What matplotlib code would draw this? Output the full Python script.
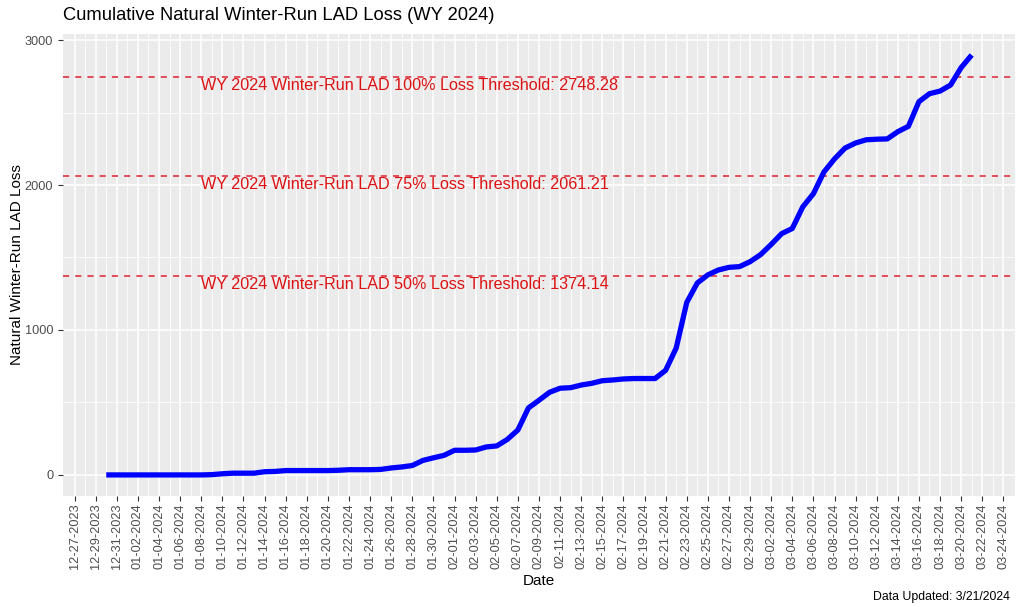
import matplotlib
matplotlib.use("Agg")
import matplotlib.pyplot as plt
import matplotlib.dates as mdates
import numpy as np
import datetime as dt

plt.rcParams['font.family'] = ['Liberation Sans', 'DejaVu Sans']

start_date = "2023-12-30"
end_date = "2024-03-21"
cumulative_loss = [
    0, 0, 0, 0, 0, 0, 0, 0, 0, 0,            # Dec 30 - Jan 8
    2, 8, 12, 12, 12, 22, 24, 30, 30, 30,     # Jan 9 - Jan 18
    30, 30, 32, 36, 36, 36, 38, 48, 55, 65,   # Jan 19 - Jan 28
    100, 118, 135, 170, 170, 172, 193, 200, 245, 310,  # Jan 29 - Feb 7
    462, 515, 570, 598, 602, 620, 632, 650, 655, 662,  # Feb 8 - Feb 17
    665, 665, 665, 722, 875, 1190, 1324, 1380, 1414, 1432,  # Feb 18 - Feb 27
    1437, 1471, 1520, 1590, 1665, 1700, 1850, 1940, 2090, 2180,  # Feb 28 - Mar 8
    2255, 2290, 2312, 2316, 2318, 2368, 2405, 2575, 2630, 2648,  # Mar 9 - Mar 18
    2690, 2810, 2897,                          # Mar 19 - Mar 21
]
threshold_labels = ["WY 2024 Winter-Run LAD 100% Loss Threshold: 2748.28",
                    "WY 2024 Winter-Run LAD 75% Loss Threshold: 2061.21",
                    "WY 2024 Winter-Run LAD 50% Loss Threshold: 1374.14"]
threshold_values = [2748.28, 2061.21, 1374.14]
label_date = "2024-01-08"
break_start = "2023-12-27"
break_end = "2024-03-24"
y_ticks = [0, 1000, 2000, 3000]

d0 = np.datetime64(start_date)
dates = d0 + np.arange(len(cumulative_loss)).astype('timedelta64[D]')
xdates = [dt.datetime.fromisoformat(str(d)) for d in dates]
xnum = mdates.date2num(xdates)
vals = np.array(cumulative_loss, dtype=float)

fig = plt.figure(figsize=(10.16, 6.07), dpi=100)
ax = fig.add_axes([0.062, 0.183, 0.937, 0.761])
ax.set_facecolor('#EBEBEB')
for s in ax.spines.values():
    s.set_visible(False)

# breaks every 2 days, minor in between
b0 = mdates.date2num(dt.datetime.fromisoformat(break_start))
b1 = mdates.date2num(dt.datetime.fromisoformat(break_end))
major = np.arange(b0, b1 + 0.5, 2)
minor = np.arange(b0 + 1, b1, 2)
ax.set_xticks(major)
ax.set_xticks(minor, minor=True)
ax.xaxis.set_major_formatter(mdates.DateFormatter('%m-%d-%Y'))
ax.set_yticks(y_ticks)
ax.set_yticks([500, 1500, 2500], minor=True)

ax.grid(which='major', color='white', linewidth=1.1)
ax.grid(which='minor', color='white', linewidth=0.55)
ax.set_axisbelow(True)

ax.plot(xnum, vals, color='#0000FF', linewidth=3.8, solid_capstyle='butt', zorder=3)

lx = mdates.date2num(dt.datetime.fromisoformat(label_date))
for lab, v in zip(threshold_labels, threshold_values):
    ax.axhline(v, color='#DD2233', linestyle=(0, (4, 4)), linewidth=1.1, zorder=2)
    ax.text(lx, v - 8, lab, color='#DD1111', fontsize=11.6, ha='left', va='top', zorder=4)

xr = xnum.max() - xnum.min()
ax.set_xlim(xnum.min() - 0.05 * xr, xnum.max() + 0.05 * xr)
yr = vals.max() - vals.min()
ax.set_ylim(vals.min() - 0.05 * yr, vals.max() + 0.05 * yr)

ax.tick_params(axis='both', which='major', length=3.5, width=0.8, color='#333333',
               labelcolor='#4D4D4D', labelsize=9.2)
ax.tick_params(axis='both', which='minor', length=0)
ax.tick_params(axis='x', labelrotation=90, pad=2)
for t in ax.get_xticklabels():
    t.set_ha('center')

ax.set_xlabel('Date', fontsize=11)
ax.set_ylabel('Natural Winter-Run LAD Loss', fontsize=11)
ax.yaxis.set_label_coords(-0.041, 0.5)
ax.xaxis.set_label_coords(0.5, -0.169)
fig.text(0.062, 0.975, 'Cumulative Natural Winter-Run LAD Loss (WY 2024)', fontsize=13.2,
         ha='left', va='center')
fig.text(0.994, 0.017, 'Data Updated: 3/21/2024', fontsize=8.8, ha='right', va='center')

fig.savefig('out.png', dpi=100)
